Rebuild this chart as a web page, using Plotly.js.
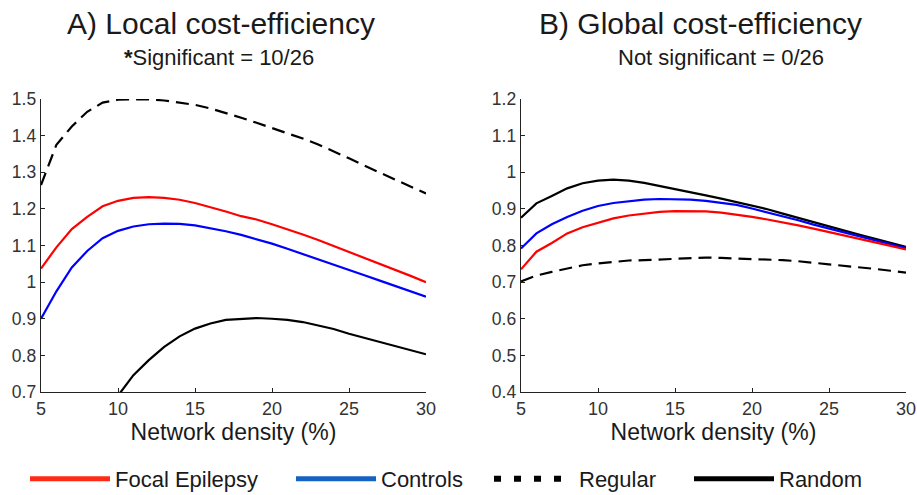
<!DOCTYPE html>
<html>
<head>
<meta charset="utf-8">
<script src="https://cdn.plot.ly/plotly-3.0.1.min.js"></script>
<style>html,body{margin:0;padding:0;background:#fff;}#chart{width:917px;height:495px;}</style>
</head>
<body>
<div id="chart"></div>
<script>
// Network density (%)
const density = [5,6,7,8,9,10,11,12,13,14,15,16,17,18,19,20,21,22,23,24,25,26,27,28,29,30];

// A) Local cost-efficiency
const localFocal    = [1.037,1.095,1.145,1.178,1.207,1.222,1.230,1.232,1.230,1.225,1.216,1.205,1.193,1.180,1.171,1.158,1.145,1.130,1.115,1.099,1.083,1.066,1.050,1.033,1.017,1.000];
const localControls = [0.900,0.975,1.040,1.085,1.120,1.140,1.152,1.158,1.160,1.159,1.155,1.148,1.139,1.129,1.118,1.105,1.091,1.077,1.062,1.048,1.033,1.019,1.004,0.990,0.975,0.960];
const localRegular  = [1.265,1.375,1.425,1.465,1.490,1.498,1.499,1.499,1.496,1.491,1.484,1.474,1.462,1.449,1.435,1.421,1.407,1.392,1.376,1.358,1.338,1.318,1.299,1.280,1.261,1.242];
const localRandom   = [0.250,0.380,0.480,0.560,0.630,0.690,0.746,0.787,0.823,0.852,0.873,0.887,0.897,0.900,0.902,0.900,0.897,0.891,0.882,0.872,0.859,0.848,0.837,0.826,0.814,0.803];

// B) Global cost-efficiency
const globalFocal    = [0.735,0.783,0.807,0.833,0.850,0.862,0.874,0.882,0.888,0.892,0.894,0.894,0.893,0.890,0.885,0.878,0.871,0.864,0.855,0.846,0.837,0.828,0.818,0.808,0.799,0.789];
const globalControls = [0.792,0.833,0.858,0.878,0.895,0.908,0.916,0.921,0.925,0.927,0.927,0.925,0.922,0.917,0.911,0.901,0.891,0.880,0.869,0.857,0.846,0.836,0.826,0.815,0.804,0.793];
const globalRegular  = [0.702,0.718,0.728,0.737,0.746,0.751,0.755,0.759,0.760,0.762,0.764,0.765,0.767,0.766,0.765,0.764,0.762,0.760,0.757,0.753,0.748,0.745,0.741,0.736,0.731,0.726];
const globalRandom   = [0.876,0.915,0.935,0.956,0.970,0.977,0.980,0.977,0.971,0.963,0.955,0.946,0.937,0.928,0.919,0.910,0.899,0.887,0.875,0.863,0.851,0.840,0.829,0.818,0.807,0.796];

const xTicks = [5,10,15,20,25,30];
const yTicksLocal  = [0.7,0.8,0.9,1,1.1,1.2,1.3,1.4,1.5];
const yTicksGlobal = [0.4,0.5,0.6,0.7,0.8,0.9,1,1.1,1.2];

const seriesNames = ['Focal Epilepsy','Controls','Regular','Random'];
const titles = ['A) Local cost-efficiency','B) Global cost-efficiency'];
const subtitles = ['<b>*</b>Significant = 10/26','Not significant = 0/26'];
const xTitle = 'Network density (%)';

const FONT = '"Liberation Sans", Arial, Helvetica, sans-serif';
const TXT = '#1a1a1a';
const RED = '#ff0000', BLUE = '#0000ff', BLACK = '#000000';
const DASH = '13px,7px';

function line(x, y, color, dash, xa, ya){
  return {x:x, y:y, xaxis:xa, yaxis:ya, type:'scatter', mode:'lines', showlegend:false,
    hoverinfo:'skip', line:{color:color, width:2.2, dash:dash||'solid', shape:'linear'}};
}

const traces = [
  line(density, localRegular, BLACK, DASH, 'x', 'y'),
  line(density, localRandom, BLACK, null, 'x', 'y'),
  line(density, localControls, BLUE, null, 'x', 'y'),
  line(density, localFocal, RED, null, 'x', 'y'),
  line(density, globalRegular, BLACK, DASH, 'x2', 'y2'),
  line(density, globalRandom, BLACK, null, 'x2', 'y2'),
  line(density, globalControls, BLUE, null, 'x2', 'y2'),
  line(density, globalFocal, RED, null, 'x2', 'y2'),
];
// legend-only entries (thick lines like the reference legend), one legend box per entry
const legendStyles = [
  {color:'#ff2b14', dash:'solid', w:5},
  {color:'#1562c2', dash:'solid', w:5},
  {color:'#000000', dash:'7px,13px', w:6},
  {color:'#000000', dash:'solid', w:5}
];
const legendIds = ['legend','legend2','legend3','legend4'];
seriesNames.forEach((n,i)=>{
  traces.push({x:[null], y:[null], xaxis:'x', yaxis:'y', type:'scatter', mode:'lines', name:n,
    legend:legendIds[i], showlegend:true,
    line:{color:legendStyles[i].color, width:legendStyles[i].w, dash:legendStyles[i].dash}});
});

function xaxis(domain, anchor){
  return {domain:domain, anchor:anchor, range:[5,30], tickvals:xTicks, ticks:'inside', ticklen:4,
    tickcolor:'#222', showline:true, linecolor:'#222', linewidth:1.3, showgrid:false, zeroline:false,
    tickfont:{family:FONT, size:18, color:'#333'}, fixedrange:true,
    title:{text:xTitle, font:{family:FONT, size:23, color:TXT}, standoff:6}};
}
function yaxis(domain, anchor, range, ticks){
  return {domain:domain, anchor:anchor, range:range, tickvals:ticks, ticks:'inside', ticklen:4,
    tickcolor:'#222', showline:true, linecolor:'#222', linewidth:1.3, showgrid:false, zeroline:false,
    tickfont:{family:FONT, size:17.5, color:'#333'}, fixedrange:true};
}

const W = 917, H = 495;
const yDom = [1-392/H, 1-99/H];
const legendX = [25, 291, 489, 689];
function legendBox(i){
  return {orientation:'h', x:legendX[i]/W, xanchor:'left', y:1-479/H, yanchor:'middle',
    font:{family:FONT, size:22, color:TXT}, itemwidth:80, bgcolor:'rgba(0,0,0,0)'};
}
const layout = {
  width:W, height:H, margin:{l:0,r:0,t:0,b:0, autoexpand:false}, paper_bgcolor:'#fff', plot_bgcolor:'#fff',
  font:{family:FONT, color:TXT},
  xaxis: xaxis([41/W, 426/W], 'y'),
  yaxis: yaxis(yDom, 'x', [0.7,1.5], yTicksLocal),
  xaxis2: xaxis([521/W, 906/W], 'y2'),
  yaxis2: yaxis(yDom, 'x2', [0.4,1.2], yTicksGlobal),
  showlegend:true,
  legend: legendBox(0), legend2: legendBox(1), legend3: legendBox(2), legend4: legendBox(3),
  annotations:[
    {text:titles[0], xref:'paper', yref:'paper', x:221/W, y:1-24/H, xanchor:'center', yanchor:'middle', showarrow:false, font:{family:FONT, size:30, color:TXT}},
    {text:subtitles[0], xref:'paper', yref:'paper', x:219/W, y:1-58/H, xanchor:'center', yanchor:'middle', showarrow:false, font:{family:FONT, size:22, color:TXT}},
    {text:titles[1], xref:'paper', yref:'paper', x:700/W, y:1-24/H, xanchor:'center', yanchor:'middle', showarrow:false, font:{family:FONT, size:30, color:TXT}},
    {text:subtitles[1], xref:'paper', yref:'paper', x:721/W, y:1-58/H, xanchor:'center', yanchor:'middle', showarrow:false, font:{family:FONT, size:22, color:TXT}}
  ]
};
Plotly.newPlot('chart', traces, layout, {displayModeBar:false, staticPlot:true});
</script>
</body>
</html>
